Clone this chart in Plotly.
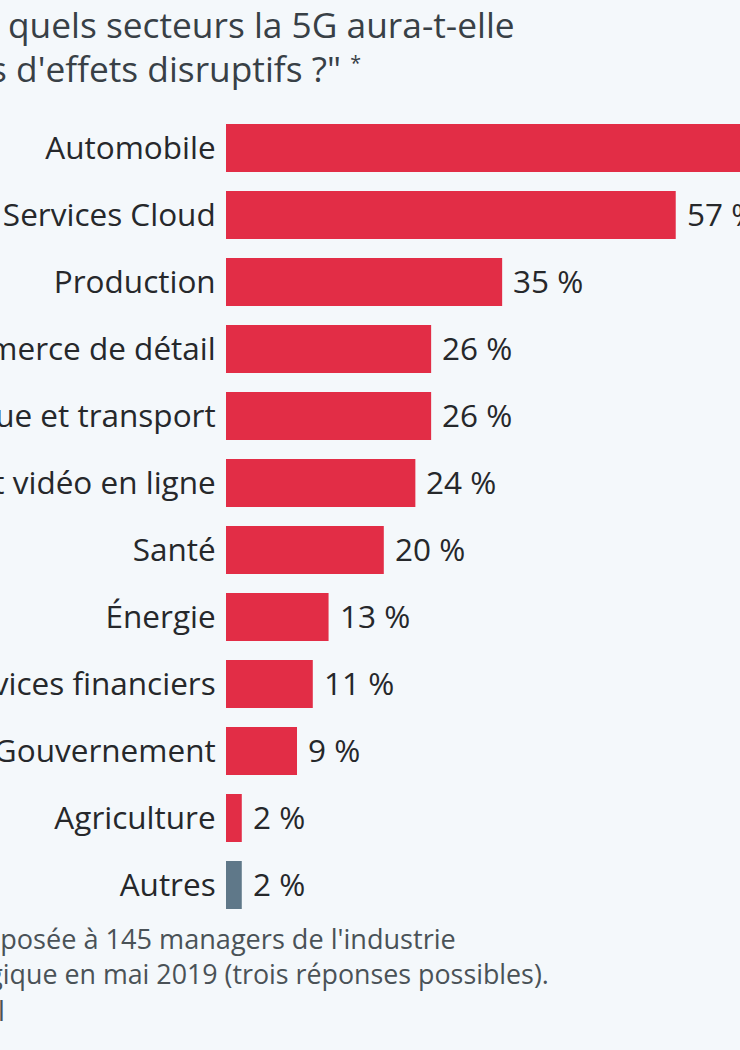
import plotly.graph_objects as go

categories = ["Automobile", "Services Cloud", "Production", "Commerce de détail",
              "Logistique et transport", "Divertissement vidéo en ligne", "Santé", "Énergie",
              "Services financiers", "Gouvernement", "Agriculture", "Autres"]
values = [70, 57, 35, 26, 26, 24, 20, 13, 11, 9, 2, 2]
bar_colors = ["#e22d46"] * 11 + ["#5f7889"]
title_lines = ["\"Dans quels secteurs la 5G aura-t-elle",
               "le plus d'effets disruptifs ?\" <span style='font-size:28px'><sup>*</sup></span>"]
note_lines = ["* Question posée à 145 managers de l'industrie",
              "technologique en mai 2019 (trois réponses possibles).",
              "l"]

W, H = 740, 1050
BG = "#f4f8fb"
FONT = "Open Sans"
PX_PER_UNIT = 7.89
LEFT = 226
TOP, BOTTOM = 114.5, 918.5

fig = go.Figure(go.Bar(
    y=categories, x=values, orientation="h", marker=dict(color=bar_colors, line_width=0),
    width=48 / 67, hoverinfo="skip",
))

annotations = []
for c, v in zip(categories, values):
    annotations.append(dict(x=v, y=c, xref="x", yref="y", text=f"{v} %", showarrow=False,
                            xanchor="left", xshift=9, yshift=2,
                            font=dict(family=FONT, size=31.5, color="#26282b")))


def page_text(text, right, ymid, size, color):
    annotations.append(dict(x=right / W, y=1 - ymid / H, xref="paper", yref="paper", text=text,
                            showarrow=False, xanchor="right", yanchor="middle",
                            font=dict(family=FONT, size=size, color=color)))


for line, ym, r in zip(title_lines, [24, 68], [517, 363]):
    page_text(line, r, ym, 35.3, "#384046")
for line, ym, r, s in zip(note_lines, [938, 973, 1010], [458, 551, 7], [27.1, 26.8, 27.1]):
    page_text(line, r, ym, s, "#4a5257")

fig.update_layout(
    width=W, height=H, autosize=False, margin=dict(l=0, r=0, t=0, b=0),
    paper_bgcolor=BG, plot_bgcolor=BG, showlegend=False, annotations=annotations,
    xaxis=dict(domain=[LEFT / W, 1], range=[0, (W - LEFT) / PX_PER_UNIT], visible=False),
    yaxis=dict(domain=[1 - BOTTOM / H, 1 - TOP / H], autorange="reversed", showgrid=False,
               zeroline=False, showline=False, ticks="outside", ticklen=3, tickcolor=BG,
               automargin=False, tickfont=dict(family=FONT, size=31.5, color="#26282b")),
)
fig.write_html("out.html", config={"displayModeBar": False},
               post_script="document.body.style.margin='0';document.body.style.overflow='hidden';"
                           "document.documentElement.style.background='%s';" % BG)
